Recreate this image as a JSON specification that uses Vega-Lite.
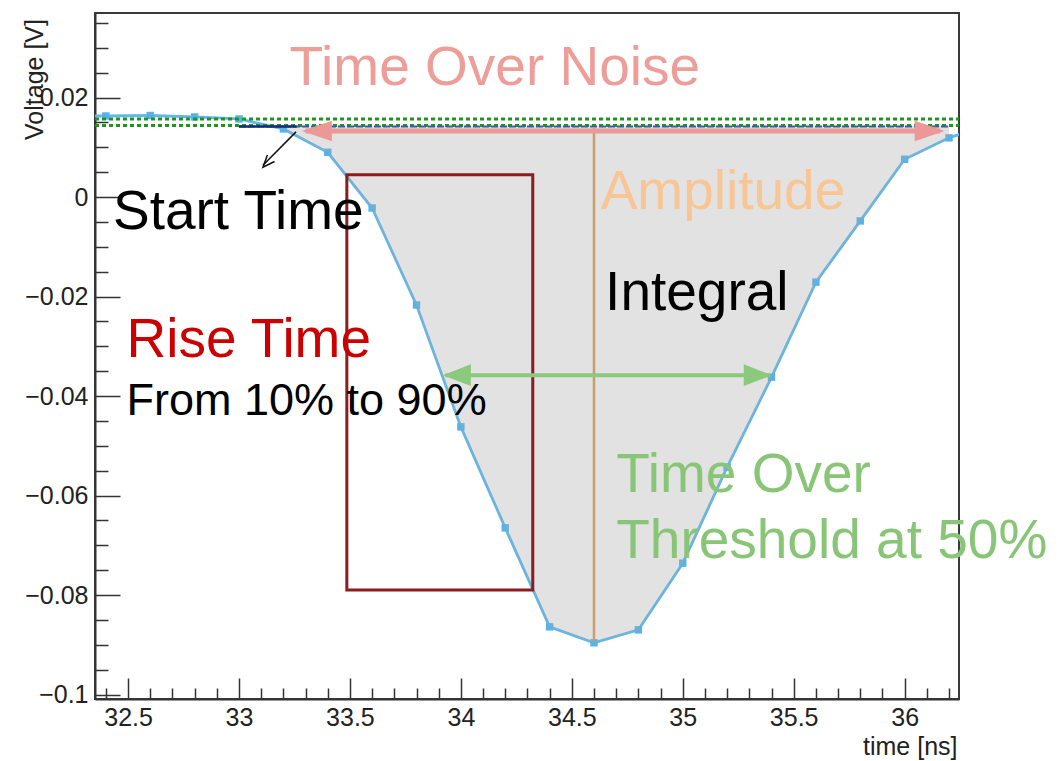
{
  "$schema": "https://vega.github.io/schema/vega-lite/v6.json",
  "width": 864,
  "height": 686,
  "autosize": {"type": "none"},
  "padding": {"left": 95, "top": 13, "right": 99, "bottom": 62},
  "background": "white",
  "config": {"view": {"stroke": "#3a3a3a", "strokeWidth": 2}, "font": "Liberation Sans"},
  "encoding": {
    "x": {
      "field": "t", "type": "quantitative",
      "scale": {"domain": [32.351, 36.245], "nice": false, "zero": false},
      "axis": {
        "title": "time [ns]",
        "values": [32.4,32.5,32.6,32.7,32.8,32.9,33.0,33.1,33.2,33.3,33.4,33.5,33.6,33.7,33.8,33.9,34.0,34.1,34.2,34.3,34.4,34.5,34.6,34.7,34.8,34.9,35.0,35.1,35.2,35.3,35.4,35.5,35.6,35.7,35.8,35.9,36.0,36.1,36.2],
        "labelExpr": "round(datum.value*10) % 5 == 0 ? format(datum.value, '~g') : ''",
        "tickSize": {"condition": {"test": "round(datum.value*10) % 5 == 0", "value": -21}, "value": -11},
        "labelPadding": 27,
        "labelFont": "Liberation Sans", "labelFontSize": 25, "labelColor": "#222",
        "labelFlush": false, "labelOverlap": false,
        "tickColor": "#333", "tickWidth": 1.5,
        "domainColor": "#333", "domainWidth": 2, "grid": false,
        "titleFont": "Liberation Sans", "titleFontSize": 25, "titleFontWeight": "normal", "titleColor": "#222",
        "titleAnchor": "end", "titleAlign": "right", "titleX": 862, "titleY": 55, "titleBaseline": "alphabetic"
      }
    },
    "y": {
      "field": "v", "type": "quantitative",
      "scale": {"domain": [-0.1009, 0.037], "nice": false, "zero": false},
      "axis": {
        "title": "Voltage [V]",
        "values": [-0.1,-0.095,-0.09,-0.085,-0.08,-0.075,-0.07,-0.065,-0.06,-0.055,-0.05,-0.045,-0.04,-0.035,-0.03,-0.025,-0.02,-0.015,-0.01,-0.005,0,0.005,0.01,0.015,0.02,0.025,0.03,0.035],
        "labelExpr": "round(datum.value*1000) % 20 == 0 ? format(datum.value, '~g') : ''",
        "tickSize": {"condition": {"test": "round(datum.value*1000) % 20 == 0", "value": -25}, "value": -13},
        "labelPadding": 32,
        "labelFont": "Liberation Sans", "labelFontSize": 25, "labelColor": "#222",
        "labelFlush": false, "labelOverlap": false,
        "tickColor": "#333", "tickWidth": 1.5,
        "domainColor": "#333", "domainWidth": 2, "grid": false,
        "titleFont": "Liberation Sans", "titleFontSize": 25, "titleFontWeight": "normal", "titleColor": "#222",
        "titleAngle": -90, "titleAlign": "center", "titleBaseline": "alphabetic", "titleX": -53, "titleY": 66
      }
    }
  },
  "layer": [
    {
      "data": {"values": [
        {"t": 32.2, "v": 0.0163}, {"t": 32.4, "v": 0.0163}, {"t": 32.6, "v": 0.0164}, {"t": 32.8, "v": 0.0161},
        {"t": 33.0, "v": 0.0157}, {"t": 33.2, "v": 0.0137}, {"t": 33.4, "v": 0.0090}, {"t": 33.6, "v": -0.0022},
        {"t": 33.8, "v": -0.0217}, {"t": 34.0, "v": -0.0462}, {"t": 34.2, "v": -0.0665}, {"t": 34.4, "v": -0.0864},
        {"t": 34.6, "v": -0.0896}, {"t": 34.8, "v": -0.0870}, {"t": 35.0, "v": -0.0736}, {"t": 35.2, "v": -0.0543},
        {"t": 35.4, "v": -0.0362}, {"t": 35.6, "v": -0.0171}, {"t": 35.8, "v": -0.0048}, {"t": 36.0, "v": 0.0076},
        {"t": 36.2, "v": 0.0119}, {"t": 36.4, "v": 0.0150}
      ]},
      "layer": [
        {"mark": {"type": "line", "color": "#62b7e8", "strokeWidth": 2.8, "clip": true}},
        {"mark": {"type": "point", "shape": "square", "filled": true, "color": "#55b3e8", "size": 55, "opacity": 1, "clip": true}},
        {
          "transform": [{"filter": "datum.t >= 33.2 && datum.t <= 36.2"}],
          "mark": {"type": "area", "color": "#a8a8a8", "opacity": 0.33},
          "encoding": {"y2": {"datum": 0.0143}}
        }
      ]
    },
    {
      "data": {"values": [{"t": 33.486, "v": 0.0045, "t2": 34.324, "v2": -0.079}]},
      "mark": {"type": "rect", "filled": false, "stroke": "#8b1c1f", "strokeWidth": 3},
      "encoding": {"x2": {"field": "t2"}, "y2": {"field": "v2"}}
    },
    {
      "data": {"values": [
        {"t": 32.351, "v": 0.0157, "t2": 36.245, "v2": 0.0157},
        {"t": 32.351, "v": 0.0144, "t2": 36.245, "v2": 0.0144}
      ]},
      "mark": {"type": "rule", "color": "#1e961e", "strokeWidth": 3, "strokeDash": [4, 3]},
      "encoding": {"x2": {"field": "t2"}, "y2": {"field": "v2"}}
    },
    {
      "data": {"values": [{"t": 33.0, "v": 0.0142, "t2": 36.2, "v2": 0.0142}]},
      "mark": {"type": "rule", "color": "#3b5aa8", "strokeWidth": 2, "strokeDash": [7, 2]},
      "encoding": {"x2": {"field": "t2"}, "y2": {"field": "v2"}}
    },
    {
      "data": {"values": [{"t": 33.0, "v": 0.0142, "t2": 33.26, "v2": 0.0142}]},
      "mark": {"type": "rule", "color": "#1a2a7a", "strokeWidth": 2.5},
      "encoding": {"x2": {"field": "t2"}, "y2": {"field": "v2"}}
    },
    {
      "data": {"values": [{"t": 34.6, "v": 0.0141, "t2": 34.6, "v2": -0.0892}]},
      "mark": {"type": "rule", "color": "#c99e6c", "strokeWidth": 2.5},
      "encoding": {"x2": {"field": "t2"}, "y2": {"field": "v2"}}
    },
    {
      "data": {"values": [{"t": 33.3, "v": 0.01327, "t2": 36.16, "v2": 0.01327}]},
      "mark": {"type": "rule", "color": "#ec9896", "strokeWidth": 5},
      "encoding": {"x2": {"field": "t2"}, "y2": {"field": "v2"}}
    },
    {
      "data": {"values": [{"t": 33.351, "v": 0.01327}]},
      "mark": {"type": "point", "shape": "M-1,0L1,-0.68L1,0.68Z", "filled": true, "color": "#ec9896", "opacity": 1, "size": 900}
    },
    {
      "data": {"values": [{"t": 36.113, "v": 0.01327}]},
      "mark": {"type": "point", "shape": "M1,0L-1,-0.68L-1,0.68Z", "filled": true, "color": "#ec9896", "opacity": 1, "size": 900}
    },
    {
      "data": {"values": [{"t": 33.93, "v": -0.0358, "t2": 35.39, "v2": -0.0358}]},
      "mark": {"type": "rule", "color": "#8cc97c", "strokeWidth": 4},
      "encoding": {"x2": {"field": "t2"}, "y2": {"field": "v2"}}
    },
    {
      "data": {"values": [{"t": 33.982, "v": -0.0358}]},
      "mark": {"type": "point", "shape": "M-1,0L1,-0.78L1,0.78Z", "filled": true, "color": "#8cc97c", "opacity": 1, "size": 784}
    },
    {
      "data": {"values": [{"t": 35.338, "v": -0.0358}]},
      "mark": {"type": "point", "shape": "M1,0L-1,-0.78L-1,0.78Z", "filled": true, "color": "#8cc97c", "opacity": 1, "size": 784}
    },
    {
      "data": {"values": [{"t": 33.257, "v": 0.0131, "t2": 33.108, "v2": 0.0064}]},
      "mark": {"type": "rule", "color": "#111", "strokeWidth": 1.5},
      "encoding": {"x2": {"field": "t2"}, "y2": {"field": "v2"}}
    },
    {
      "data": {"values": [{"t": 33.126, "v": 0.0069}]},
      "mark": {"type": "point", "shape": "M-1,-0.8L1,0L-1,0.8", "filled": false, "color": "#111", "strokeWidth": 1.5, "opacity": 1, "size": 144, "angle": 132}
    },
    {
      "data": {"values": [{"t": 34.153, "v": 0.0225, "label": "Time Over Noise"}]},
      "mark": {"type": "text", "align": "center", "baseline": "alphabetic", "font": "Liberation Sans", "fontSize": 55, "color": "#ee9e99"},
      "encoding": {"text": {"field": "label"}}
    },
    {
      "data": {"values": [{"t": 32.432, "v": -0.0064, "label": "Start Time"}]},
      "mark": {"type": "text", "align": "left", "baseline": "alphabetic", "font": "Liberation Sans", "fontSize": 55, "color": "#000000"},
      "encoding": {"text": {"field": "label"}}
    },
    {
      "data": {"values": [{"t": 34.63, "v": -0.0024, "label": "Amplitude"}]},
      "mark": {"type": "text", "align": "left", "baseline": "alphabetic", "font": "Liberation Sans", "fontSize": 55, "color": "#f8c595"},
      "encoding": {"text": {"field": "label"}}
    },
    {
      "data": {"values": [{"t": 34.65, "v": -0.0227, "label": "Integral"}]},
      "mark": {"type": "text", "align": "left", "baseline": "alphabetic", "font": "Liberation Sans", "fontSize": 55, "color": "#000000"},
      "encoding": {"text": {"field": "label"}}
    },
    {
      "data": {"values": [{"t": 32.493, "v": -0.0322, "label": "Rise Time"}]},
      "mark": {"type": "text", "align": "left", "baseline": "alphabetic", "font": "Liberation Sans", "fontSize": 55, "color": "#cc0000"},
      "encoding": {"text": {"field": "label"}}
    },
    {
      "data": {"values": [{"t": 32.493, "v": -0.0438, "label": "From 10% to 90%"}]},
      "mark": {"type": "text", "align": "left", "baseline": "alphabetic", "font": "Liberation Sans", "fontSize": 45, "color": "#000000"},
      "encoding": {"text": {"field": "label"}}
    },
    {
      "data": {"values": [
        {"t": 34.70, "v": -0.0593, "label": "Time Over"},
        {"t": 34.70, "v": -0.0726, "label": "Threshold at 50%"}
      ]},
      "mark": {"type": "text", "align": "left", "baseline": "alphabetic", "font": "Liberation Sans", "fontSize": 55, "color": "#88c577", "clip": false},
      "encoding": {"text": {"field": "label"}}
    }
  ]
}
